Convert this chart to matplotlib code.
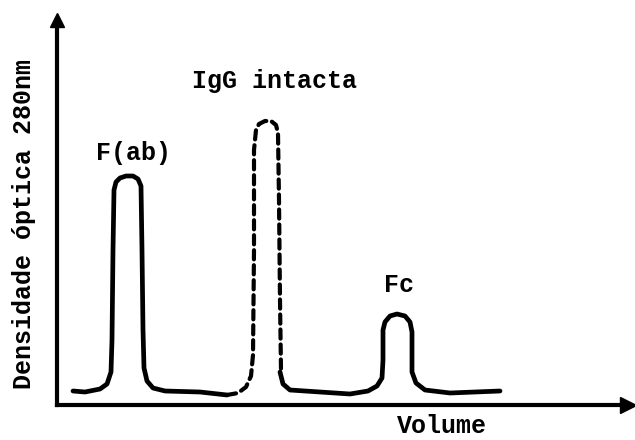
import matplotlib
matplotlib.use("Agg")
import matplotlib.pyplot as plt

# elution profile, arbitrary units (volume, optical density)
fab_volume = [16, 28, 43, 50, 54, 55, 56, 57, 59, 63, 69, 76, 81, 84, 85, 86, 87, 90, 96, 108, 143, 170]
fab_density = [14, 13, 16, 21, 33, 65, 155, 215, 223, 227, 229, 229, 226, 219, 155, 75, 37, 24, 17, 14, 13, 10]

igg_volume = [170, 181, 189, 194, 196, 197, 197, 199, 202, 208, 214, 219, 221, 222, 223, 224]
igg_density = [10, 12, 18, 29, 50, 155, 255, 275, 281, 284, 284, 280, 272, 205, 105, 35]

fc_volume = [223, 226, 233, 248, 293, 311, 320, 325, 326, 326, 328, 333, 340, 348, 353, 355, 355, 359, 368, 393, 443]
fc_density = [33, 21, 15, 14, 11, 14, 19, 27, 45, 75, 83, 89, 91, 89, 83, 73, 33, 22, 15, 12, 14]

peak_names = ["F(ab)", "IgG intacta", "Fc"]
label_volume = [76, 218, 342]
label_density = [252, 324, 120]

x_label = "Volume"
y_label = "Densidade óptica 280nm"

font = dict(family="Liberation Mono", weight="bold", size=18)


def main():
    fig = plt.figure(figsize=(6.35, 4.4), dpi=100)
    ax = fig.add_axes([57 / 635, 35 / 440, 571 / 635, 385 / 440])
    ax.set_xlim(0, 571)
    ax.set_ylim(0, 385)

    kw = dict(color="black", lw=3.4, solid_capstyle="round", solid_joinstyle="round")
    ax.plot(fab_volume, fab_density, **kw)
    ax.plot(fc_volume, fc_density, **kw)
    ax.plot(igg_volume, igg_density, color="black", lw=3.0, dashes=(2.2, 1.4),
            dash_capstyle="round")

    for name, x, y in zip(peak_names, label_volume, label_density):
        ax.text(x, y, name, ha="center", va="center", **font)

    # axes drawn as arrows
    for side in ["top", "right"]:
        ax.spines[side].set_visible(False)
    for side in ["left", "bottom"]:
        ax.spines[side].set_linewidth(3)
    ax.plot(1, 0, ">k", ms=11, transform=ax.transAxes, clip_on=False)
    ax.plot(0, 1, "^k", ms=10, transform=ax.transAxes, clip_on=False)
    ax.set_xticks([])
    ax.set_yticks([])

    ax.text(385, -21, x_label, ha="center", va="center", **font)
    ax.text(-33, 181, y_label, ha="center", va="center", rotation=90, **font)

    fig.savefig("out.png", dpi=100)


if __name__ == "__main__":
    main()
